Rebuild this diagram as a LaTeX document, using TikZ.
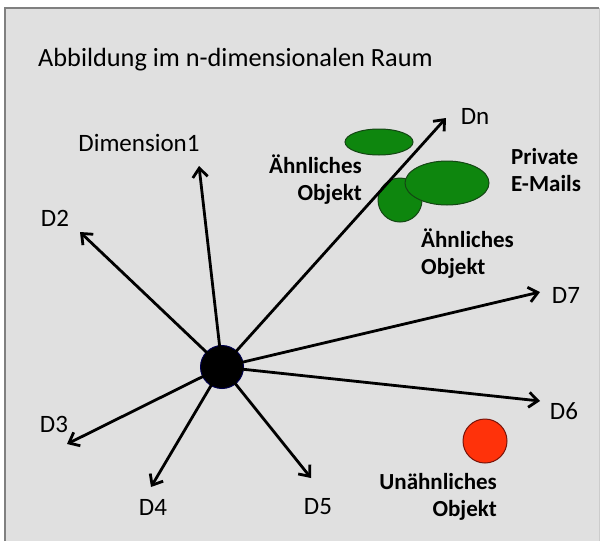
\documentclass[tikz,border=0pt]{standalone}
\usepackage{fontspec}
\setmainfont{Carlito}
\usetikzlibrary{arrows.meta}
\usetikzlibrary{shapes.geometric}
\definecolor{panelgray}{RGB}{224,224,224}
\definecolor{framegray}{RGB}{128,128,128}
\definecolor{blobgreen}{RGB}{14,134,14}
\definecolor{blobedge}{RGB}{20,70,20}
\definecolor{dotred}{RGB}{255,50,10}
\definecolor{dotedge}{RGB}{120,20,10}
\newcommand{\dimaxis}[4] {\coordinate (#1) at (#2); \node [axislabel] at (#3) (#1label) {#4};}
\newcommand{\dimarrow}[1] {\draw [axisarrow] (hub.center) -- (#1);}
\tikzset{
  axislabel/.style={font=\fontsize{25}{28}\selectfont, inner sep=0pt},
  axisarrow/.style={line width=2.8pt, -{Straight Barb[length=9pt,width=15pt,line width=2.8pt]}},
  blob/.style={ellipse, draw=blobedge, fill=blobgreen, line width=1pt, inner sep=0pt},
  tag/.style={font=\bfseries\fontsize{23}{27}\selectfont, inner sep=0pt}
}

\begin{document}
\begin{tikzpicture}[x=1pt, y=-1pt]
\useasboundingbox (0,0) rectangle (601,541);
\fill [white] (0,0) rectangle (601,541);
\fill [panelgray] (5,8) rectangle (599,541);
\draw [framegray, line width=2pt] (5,541) -- (5,8) -- (599,8);
\draw [framegray!40, line width=1pt] (599,8) -- (599,541);

\node [anchor=west, font=\fontsize{26.3}{30}\selectfont, inner sep=0pt] at (38,60) (title) {Abbildung im n-dimensionalen Raum};

% green objects
\node [blob, minimum width=44pt, minimum height=44pt] at (400,200) (near2) {};
\node [blob, minimum width=84pt, minimum height=44pt] at (447,183) (mails) {};
\node [blob, minimum width=68pt, minimum height=26pt] at (379,142) (near1) {};
\node [circle, draw=dotedge, fill=dotred, line width=1pt, minimum size=44pt, inner sep=0pt] at (485,441) (far) {};

% axes
\coordinate (hub0) at (222,367);
\dimaxis{dim1}{199,166}{139,143}{Dimension1};
\dimaxis{d2}{80,232}{55,218}{D2};
\dimaxis{d3}{67,444}{54,424}{D3};
\dimaxis{d4}{151,487}{153,507}{D4};
\dimaxis{d5}{311,478}{318,507}{D5};
\dimaxis{d6}{540,401}{564,411}{D6};
\dimaxis{d7}{540,292}{566,295}{D7};
\dimaxis{dn}{446,118}{475,116}{Dn};

\node [circle, fill=black, draw=blue!30!black, line width=1pt, minimum size=43pt, inner sep=0pt] at (hub0) (hub) {};
\dimarrow{dim1}; \dimarrow{d2}; \dimarrow{d3}; \dimarrow{d4};
\dimarrow{d5}; \dimarrow{d6}; \dimarrow{d7}; \dimarrow{dn};
\fill [black] (hub.center) circle (18pt);

% labels
\node [tag, align=right, anchor=east] at (362,180) (near1label) {Ähnliches\\Objekt};
\node [tag, align=left, anchor=west] at (511,170) (mailslabel) {Private\\E-Mails};
\node [tag, align=left, anchor=west] at (421,254) (near2label) {Ähnliches\\Objekt};
\node [tag, align=right, anchor=east] at (497,497) (farlabel) {Unähnliches\\Objekt};

\end{tikzpicture}
\end{document}
